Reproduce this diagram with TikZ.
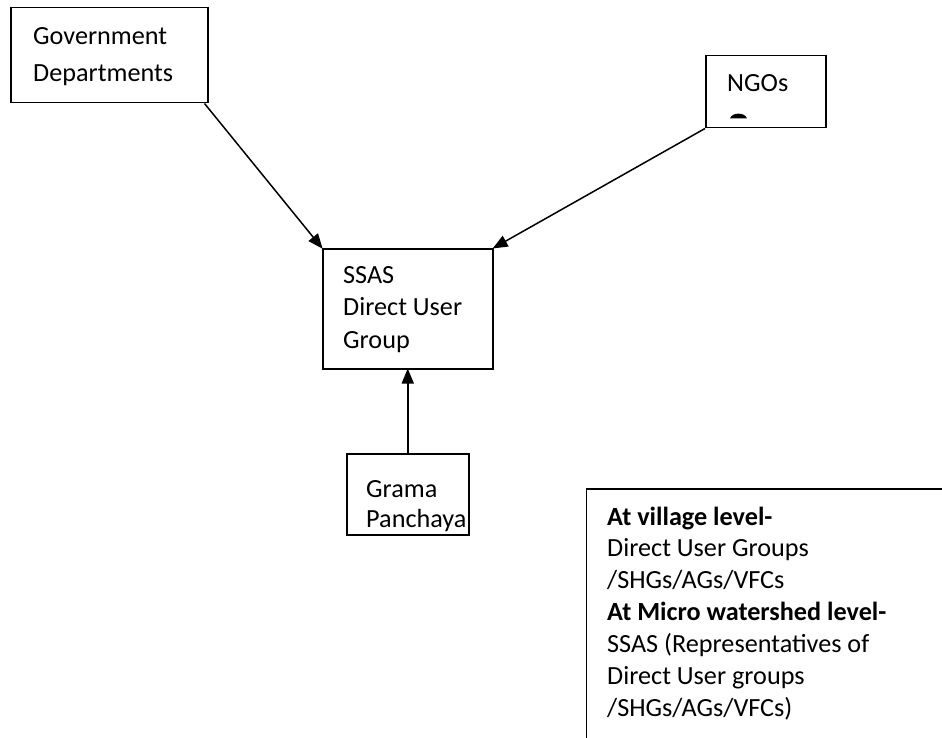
\documentclass[tikz,border=0pt]{standalone}
\usepackage{fontspec}
\setmainfont{Carlito}
\usetikzlibrary{arrows.meta}
\tikzset{
  box/.style={draw=black, line width=1.5pt, rectangle, inner sep=0pt, anchor=north west},
  txt/.style={anchor=base west, inner sep=0pt, font=\fontsize{26.2}{31}\selectfont},
  conn/.style={draw=black, line width=1.5pt, -{Triangle[length=15pt,width=12pt]}, shorten >=-1pt}
}
\begin{document}
\begin{tikzpicture}[x=1pt,y=-1pt]
\path[use as bounding box] (0,0) rectangle (942,738);
\clip (0,0) rectangle (942,738);
\fill[white] (0,0) rectangle (942,738);
% boxes
\node[box, minimum width=197pt, minimum height=95pt] (gov) at (10,7) {};
\node[box, minimum width=120pt, minimum height=72pt] (ngo) at (705,55) {};
\node[box, minimum width=170pt, minimum height=120pt] (ssas) at (322,248) {};
\node[box, minimum width=122pt, minimum height=81pt] (grama) at (346,453) {};
\node[box, minimum width=420pt, minimum height=300pt] (note) at (585.5,488) {};
% texts
\node[txt] (t1) at (33,45) {Government};
\node[txt] (t2) at (33,82) {Departments};
\node[txt] (t3) at (727,92) {NGOs};
\fill (730,118.5) .. controls (732,112) and (745,112) .. (747,118.5) -- cycle;
\node[txt] (t4) at (343,283) {SSAS};
\node[txt] (t5) at (343,315.5) {Direct User};
\node[txt] (t6) at (343,348) {Group};
\node[txt] (t7) at (366,497) {Grama};
\node[txt] (t8) at (366,527) {Panchaya};
\node[txt] (n1) at (607,525) {\bfseries At village level-};
\node[txt] (n2) at (607,556) {Direct User Groups};
\node[txt] (n3) at (607,588) {/SHGs/AGs/VFCs};
\node[txt] (n4) at (607,620) {\bfseries At Micro watershed level-};
\node[txt] (n5) at (607,652) {SSAS (Representatives of};
\node[txt] (n6) at (607,684) {Direct User groups};
\node[txt] (n7) at (607,716) {/SHGs/AGs/VFCs)};
% connectors
\draw[conn] ([xshift=-4pt]gov.south east) -- (ssas.north west);
\draw[conn] (ngo.south west) -- (ssas.north east);
\draw[conn] (ssas.south |- grama.north) -- (ssas.south);
\end{tikzpicture}
\end{document}
